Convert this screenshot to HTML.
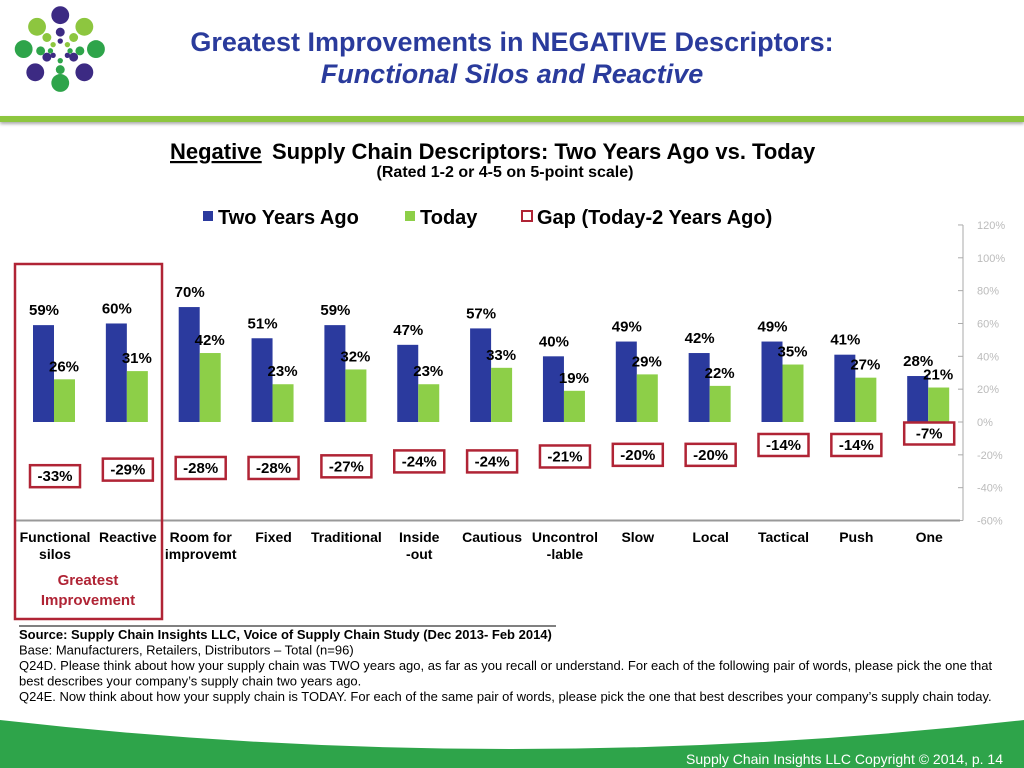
<!DOCTYPE html>
<html><head><meta charset="utf-8"><style>
body{margin:0;width:1024px;height:768px;overflow:hidden;background:#fff;font-family:"Liberation Sans",Arial,sans-serif;position:relative}
.t{position:absolute;left:0;width:1024px;text-align:center;color:#2a3b9c;font-weight:bold;font-size:27px}
</style></head><body>
<svg width="125" height="116" style="position:absolute;left:4px;top:0" viewBox="0 0 140 130">
<g fill="#3c2a83"><circle cx="63" cy="17" r="10"/><circle cx="35" cy="81" r="10"/><circle cx="90" cy="81" r="10"/><circle cx="63" cy="36" r="5"/><circle cx="48" cy="64" r="5"/><circle cx="78" cy="64" r="5"/><circle cx="63" cy="46" r="3"/><circle cx="55" cy="62" r="3"/><circle cx="71" cy="62" r="3"/></g>
<g fill="#8dc63f"><circle cx="37" cy="30" r="10"/><circle cx="90" cy="30" r="10"/><circle cx="48" cy="42" r="5"/><circle cx="78" cy="42" r="5"/><circle cx="55" cy="50" r="3"/><circle cx="71" cy="50" r="3"/></g>
<g fill="#2ea44a"><circle cx="22" cy="55" r="10"/><circle cx="103" cy="55" r="10"/><circle cx="63" cy="93" r="10"/><circle cx="41" cy="57" r="5"/><circle cx="85" cy="57" r="5"/><circle cx="63" cy="78" r="5"/><circle cx="52" cy="57" r="3"/><circle cx="74" cy="57" r="3"/><circle cx="63" cy="68" r="3"/></g>
</svg>
<div class="t" style="top:27px">Greatest Improvements in NEGATIVE Descriptors:</div>
<div class="t" style="top:59px;font-style:italic">Functional Silos and Reactive</div>
<div style="position:absolute;left:0;top:116px;width:1024px;height:6px;background:#8dc63f;box-shadow:0 2px 3px #aaa"></div>
<svg id="c" width="1024" height="768" style="position:absolute;left:0;top:0;font-family:'Liberation Sans',Arial,sans-serif"></svg>
<svg width="1024" height="60" style="position:absolute;left:0;top:708px"><path d="M0 12 Q512 70 1024 12 L1024 60 L0 60Z" fill="#2ea44a"/><text x="1003" y="56" text-anchor="end" fill="#fff" font-size="14" font-family="Liberation Sans Narrow,Liberation Sans,sans-serif">Supply Chain Insights LLC Copyright © 2014, p. 14</text></svg>
<script>
const categories=[["Functional","silos"],["Reactive"],["Room for","improvemt"],["Fixed"],["Traditional"],["Inside","-out"],["Cautious"],["Uncontrol","-lable"],["Slow"],["Local"],["Tactical"],["Push"],["One"]];
const twoYearsAgo=[59,60,70,51,59,47,57,40,49,42,49,41,28];
const today=[26,31,42,23,32,23,33,19,29,22,35,27,21];
const gap=[-33,-29,-28,-28,-27,-24,-24,-21,-20,-20,-14,-14,-7];
const ticks=[120,100,80,60,40,20,0,-20,-40,-60];
const NS="http://www.w3.org/2000/svg",s=document.getElementById('c');
function y(v){return 422-1.642*v}
function x(i){return 55+i*72.85}
function el(t,a,txt){const e=document.createElementNS(NS,t);for(const k in a)e.setAttribute(k,a[k]);if(txt!=null)e.textContent=txt;s.appendChild(e);return e}
let e;
e=el('text',{x:272,y:159,'font-size':22,'font-weight':'bold',fill:'#000'},'Supply Chain Descriptors:   Two Years Ago vs. Today');

e=el('text',{x:170,y:159,'font-size':22,'font-weight':'bold','text-decoration':'underline',fill:'#000'},'Negative');

e=el('text',{x:505,y:177,'text-anchor':'middle','font-size':16,'font-weight':'bold'},'(Rated 1-2 or 4-5 on 5-point scale)');

e=el('rect',{x:203,y:211,width:10,height:10,fill:'#2b3a9e'});
e=el('text',{x:218,y:224,'font-size':20,'font-weight':'bold'},'Two Years Ago');
e=el('rect',{x:405,y:211,width:10,height:10,fill:'#8dcf48'});
e=el('text',{x:420,y:224,'font-size':20,'font-weight':'bold'},'Today');
e=el('rect',{x:522,y:211,width:10,height:10,fill:'none',stroke:'#b02435','stroke-width':2});
e=el('text',{x:537,y:224,'font-size':20,'font-weight':'bold'},'Gap (Today-2 Years Ago)');
e=el('line',{x1:963,x2:963,y1:y(120),y2:y(-60),stroke:'#aaa'});
ticks.forEach(t=>{el('line',{x1:958,x2:963,y1:y(t),y2:y(t),stroke:'#aaa'});
e=el('text',{x:977,y:y(t)+4,'font-size':11,fill:'#bbb'},t+'%');});
e=el('line',{x1:15,x2:960,y1:y(-60),y2:y(-60),stroke:'#999','stroke-width':2});
categories.forEach((c,i)=>{const cx=x(i);
e=el('rect',{x:cx-22,y:y(twoYearsAgo[i]),width:21,height:y(0)-y(twoYearsAgo[i]),fill:'#2b3a9e'});
e=el('rect',{x:cx-1,y:y(today[i]),width:21,height:y(0)-y(today[i]),fill:'#8dcf48'});
e=el('text',{x:cx-11,y:y(twoYearsAgo[i])-10,'text-anchor':'middle','font-size':15,'font-weight':'bold'},twoYearsAgo[i]+'%');
e=el('text',{x:cx+9,y:y(today[i])-8,'text-anchor':'middle','font-size':15,'font-weight':'bold'},today[i]+'%');
e=el('rect',{x:cx-25,y:y(gap[i])-11,width:50,height:22,fill:'#fff',stroke:'#b02435','stroke-width':2.5});
e=el('text',{x:cx,y:y(gap[i])+5,'text-anchor':'middle','font-size':15,'font-weight':'bold'},gap[i]+'%');
c.forEach((l,k)=>{e=el('text',{x:cx,y:542+k*17,'text-anchor':'middle','font-size':14,'font-weight':'bold'},l);});
});
e=el('rect',{x:15,y:264,width:147,height:355,fill:'none',stroke:'#b02435','stroke-width':2.5});
e=el('text',{x:88,y:585,'text-anchor':'middle','font-size':15,'font-weight':'bold',fill:'#b02435'},'Greatest');
e=el('text',{x:88,y:605,'text-anchor':'middle','font-size':15,'font-weight':'bold',fill:'#b02435'},'Improvement');

e=el('line',{x1:19,x2:556,y1:626,y2:626,stroke:'#000'});
const notes=[["Source:  Supply Chain Insights LLC, Voice of Supply Chain Study (Dec 2013- Feb 2014)",'bold'],["Base:  Manufacturers, Retailers, Distributors – Total (n=96)",'normal'],["Q24D. Please think about how your supply chain was TWO years ago, as far as you recall or understand. For each of the following pair of words, please pick the one that",'normal'],["best describes your company’s supply chain two years ago.",'normal'],["Q24E. Now think about how your supply chain is TODAY. For each of the same pair of words, please pick the one that best describes your company’s supply chain today.",'normal']];
notes.forEach((n,k)=>{e=el('text',{x:19,y:639+k*15.5,'font-size':13,'font-weight':n[1],textLength:k==1?undefined:undefined},n[0]);});
</script>
</body></html>
